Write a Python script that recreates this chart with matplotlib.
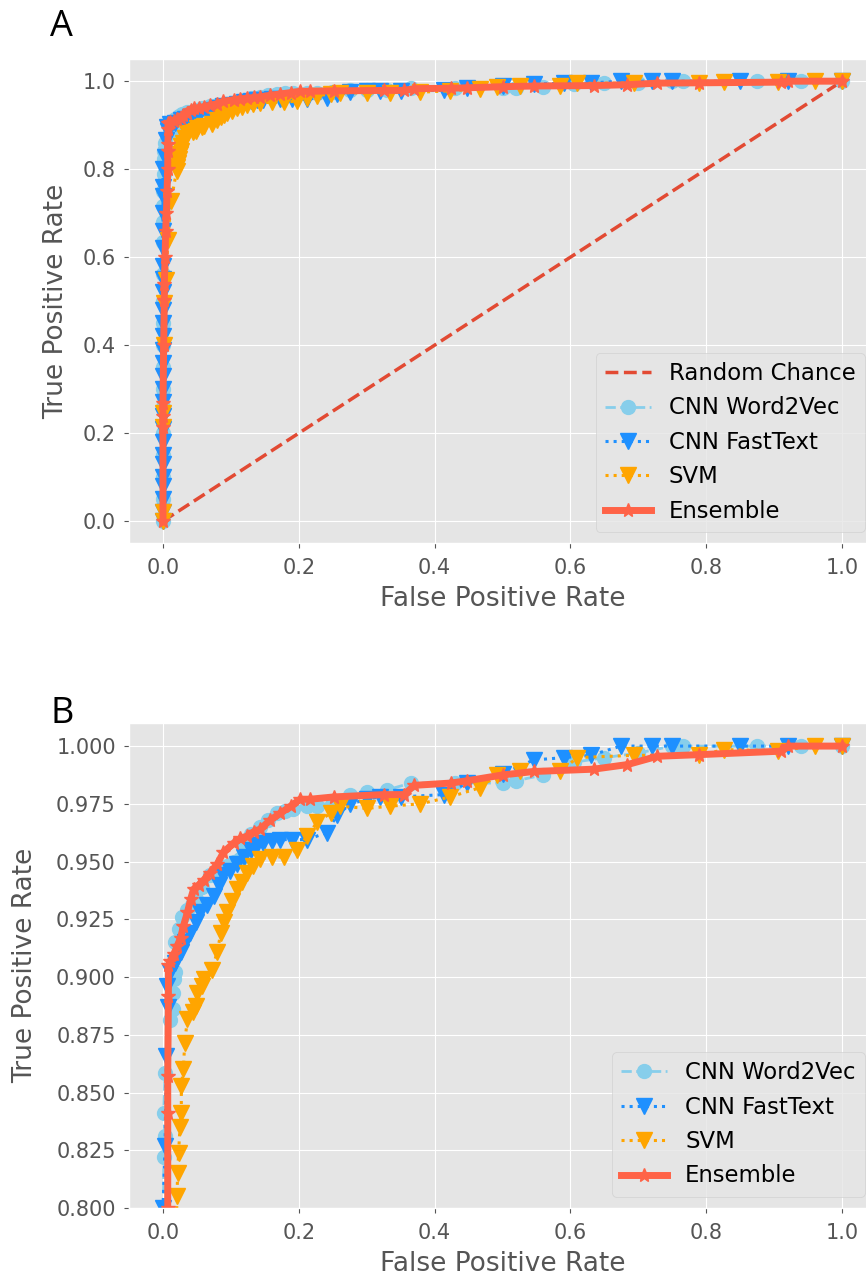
import matplotlib
matplotlib.use('Agg')
import matplotlib.pyplot as plt

# ROC points (fpr, tpr)
random_fpr = [0.0, 1.0]
random_tpr = [0.0, 1.0]

w2v_fpr = [0.0, 0.0, 0.0, 0.0, 0.0, 0.0, 0.0, 0.0, 0.0, 0.0, 0.0, 0.0, 0.0, 0.0,
           0.0, 0.0, 0.001, 0.001, 0.003, 0.001, 0.003, 0.010, 0.015, 0.015, 0.016,
           0.018, 0.018, 0.024, 0.028, 0.035, 0.042, 0.049, 0.058, 0.069, 0.080,
           0.094, 0.104, 0.114, 0.118, 0.130, 0.143, 0.155, 0.168, 0.180, 0.192,
           0.212, 0.227, 0.250, 0.276, 0.300, 0.330, 0.365, 0.430, 0.500, 0.520,
           0.560, 0.605, 0.650, 0.700, 0.750, 0.765, 0.875, 0.940, 1.0]
w2v_tpr = [0.0, 0.05, 0.10, 0.15, 0.20, 0.26, 0.30, 0.35, 0.40, 0.45, 0.50, 0.562,
           0.634, 0.68, 0.717, 0.75, 0.79, 0.822, 0.831, 0.841, 0.8585, 0.8816, 0.886,
           0.893, 0.899, 0.902, 0.915, 0.921, 0.926, 0.929, 0.931, 0.934, 0.939,
           0.944, 0.946, 0.948, 0.950, 0.951, 0.958, 0.962, 0.965, 0.968, 0.971,
           0.972, 0.9726, 0.974, 0.974, 0.976, 0.979, 0.980, 0.981, 0.984, 0.984,
           0.984, 0.985, 0.9875, 0.993, 0.995, 0.997, 1.0, 1.0, 1.0, 1.0, 1.0]

ft_fpr = [0.0, 0.0, 0.0, 0.0, 0.0, 0.0, 0.0, 0.0, 0.0, 0.0, 0.0, 0.0, 0.0, 0.0,
          0.0, 0.0, 0.0, 0.0, 0.0, 0.0, 0.0, 0.0, 0.0, 0.0, 0.0, 0.0, 0.0, 0.003,
          0.005, 0.0074, 0.006, 0.011, 0.018, 0.026, 0.033, 0.040, 0.048, 0.055,
          0.065, 0.075, 0.082, 0.089, 0.099, 0.109, 0.119, 0.129, 0.138, 0.148,
          0.160, 0.173, 0.190, 0.212, 0.241, 0.256, 0.276, 0.300, 0.320, 0.350,
          0.414, 0.448, 0.500, 0.546, 0.590, 0.630, 0.674, 0.720, 0.750, 0.850,
          0.920, 1.0]
ft_tpr = [0.0, 0.02, 0.05, 0.08, 0.10, 0.13, 0.15, 0.18, 0.21, 0.24, 0.27, 0.30,
          0.33, 0.36, 0.39, 0.42, 0.45, 0.48, 0.52, 0.55, 0.58, 0.62, 0.66, 0.70,
          0.74, 0.76, 0.80, 0.827, 0.866, 0.887, 0.896, 0.902, 0.906, 0.911, 0.915,
          0.919, 0.924, 0.928, 0.931, 0.935, 0.940, 0.944, 0.946, 0.949, 0.952,
          0.955, 0.957, 0.958, 0.959, 0.9595, 0.9595, 0.9595, 0.9625, 0.970, 0.975,
          0.977, 0.978, 0.978, 0.979, 0.984, 0.988, 0.994, 0.995, 0.996, 1.0, 1.0,
          1.0, 1.0, 1.0, 1.0]

svm_fpr = [0.0, 0.0, 0.0, 0.0, 0.001, 0.002, 0.005, 0.007, 0.012, 0.020, 0.0206,
           0.0216, 0.023, 0.025, 0.027, 0.027, 0.030, 0.032, 0.036, 0.044, 0.048,
           0.050, 0.058, 0.060, 0.072, 0.080, 0.085, 0.090, 0.094, 0.102, 0.109,
           0.117, 0.124, 0.133, 0.143, 0.160, 0.178, 0.198, 0.212, 0.227, 0.247,
           0.261, 0.300, 0.335, 0.379, 0.423, 0.467, 0.492, 0.526, 0.585, 0.610,
           0.693, 0.790, 0.826, 0.905, 0.960, 1.0]
svm_tpr = [0.0, 0.02, 0.215, 0.245, 0.40, 0.496, 0.547, 0.638, 0.728, 0.796, 0.805,
           0.815, 0.824, 0.835, 0.841, 0.853, 0.860, 0.8715, 0.882, 0.885, 0.8875,
           0.893, 0.896, 0.899, 0.903, 0.911, 0.919, 0.924, 0.928, 0.933, 0.938,
           0.941, 0.945, 0.948, 0.951, 0.952, 0.952, 0.955, 0.961, 0.967, 0.971,
           0.974, 0.973, 0.974, 0.975, 0.978, 0.982, 0.9875, 0.989, 0.989, 0.995,
           0.996, 0.996, 0.9985, 0.998, 1.0, 1.0]

ens_fpr = [0.0, 0.0, 0.0, 0.0, 0.001, 0.002, 0.002, 0.003, 0.004, 0.005, 0.006,
           0.007, 0.007, 0.007, 0.008, 0.008, 0.011, 0.016, 0.021, 0.026, 0.030,
           0.036, 0.041, 0.045, 0.053, 0.060, 0.069, 0.080, 0.089, 0.104, 0.114,
           0.124, 0.134, 0.143, 0.158, 0.173, 0.188, 0.202, 0.217, 0.252, 0.325,
           0.355, 0.370, 0.424, 0.448, 0.500, 0.546, 0.634, 0.684, 0.728, 0.790,
           0.910, 0.920, 1.0]
ens_tpr = [0.0, 0.215, 0.238, 0.268, 0.40, 0.503, 0.54, 0.60, 0.66, 0.70, 0.75,
           0.80, 0.841, 0.857, 0.892, 0.905, 0.907, 0.910, 0.9135, 0.917, 0.922,
           0.928, 0.934, 0.938, 0.940, 0.942, 0.945, 0.949, 0.954, 0.958, 0.960,
           0.961, 0.963, 0.964, 0.968, 0.971, 0.974, 0.977, 0.977, 0.978, 0.979,
           0.979, 0.983, 0.984, 0.985, 0.9875, 0.989, 0.990, 0.992, 0.9956, 0.9963,
           0.9978, 1.0, 1.0]


def draw_curves(ax, with_random, ylabelpad):
    if with_random:
        ax.plot(random_fpr, random_tpr, linestyle='--', color='#E24A33', lw=2.5,
                label='Random Chance')
    ax.plot(w2v_fpr, w2v_tpr, linestyle='--', marker='o', color='skyblue', lw=2,
            markersize=10, label='CNN Word2Vec')
    ax.plot(ft_fpr, ft_tpr, linestyle=':', marker='v', color='dodgerblue', lw=2.2,
            markersize=11, label='CNN FastText')
    ax.plot(svm_fpr, svm_tpr, linestyle=':', marker='v', color='orange', lw=2.2,
            markersize=11, label='SVM')
    ax.plot(ens_fpr, ens_tpr, linestyle='-', marker='*', color='tomato', lw=5,
            markersize=10, label='Ensemble')
    ax.set_xlabel('False Positive Rate', labelpad=6)
    ax.set_ylabel('True Positive Rate', labelpad=ylabelpad)
    ax.tick_params(axis='x', pad=7)
    ax.tick_params(axis='y', pad=6)
    ax.legend(loc='lower right', fontsize=16.4)


plt.style.use('ggplot')
plt.rcParams['font.size'] = 15
plt.rcParams['axes.labelsize'] = 19

fig = plt.figure(figsize=(8.66, 12.81), dpi=100)

# Panel A: full ROC
ax_a = fig.add_axes([0.149, 0.576, 0.8626, 0.3778])
draw_curves(ax_a, True, 10)
ax_a.set_xlim(-0.05, 1.05)
ax_a.set_ylim(-0.05, 1.05)

# Panel B: zoom on the upper part
ax_b = fig.add_axes([0.149, 0.057, 0.8626, 0.3786])
draw_curves(ax_b, False, 13)
ax_b.set_xlim(-0.05, 1.05)
ax_b.set_ylim(0.8, 1.01)
ax_b.set_yticks([0.8, 0.825, 0.85, 0.875, 0.9, 0.925, 0.95, 0.975, 1.0])

fig.text(0.058, 0.993, 'A', fontsize=26, family='Open Sans', va='top', ha='left')
fig.text(0.058, 0.4565, 'B', fontsize=26, family='Open Sans', va='top', ha='left')

fig.savefig('out.png', dpi=100)
